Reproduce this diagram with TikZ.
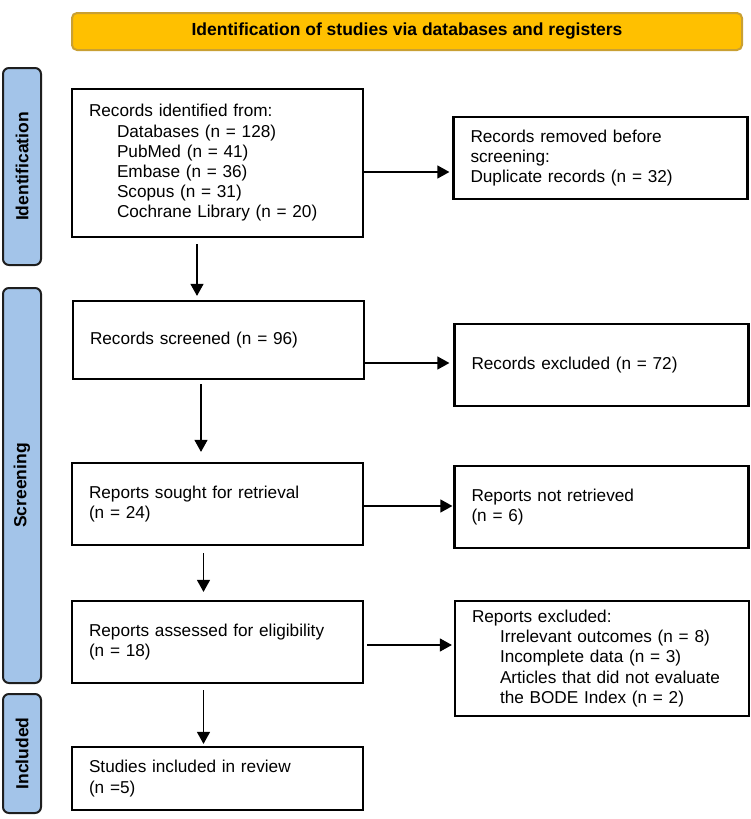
\documentclass[tikz,border=0pt]{standalone}
\usepackage{fontspec}
\setmainfont{Liberation Sans}
\usepackage{xcolor}
\usepackage{tikz}
\usetikzlibrary{positioning, arrows.meta}
\definecolor{hdrfill}{HTML}{FFC000}
\definecolor{hdrline}{HTML}{C9A033}
\definecolor{sidefill}{HTML}{A3C4E9}
\definecolor{sideline}{HTML}{1E1E1E}

\begin{document}
\begin{tikzpicture}[x=0.5pt, y=-0.5pt, font=\fontsize{8.6}{10.1}\selectfont,
  box/.style={draw=black, line width=1.1pt, fill=white, align=left, inner xsep=8.5pt, inner ysep=0pt},
  lbox/.style={box, text width=128.5pt, minimum width=145.5pt},
  rbox/.style={box, text width=130pt, minimum width=147pt},
  side/.style={draw=sideline, line width=1pt, fill=sidefill, rounded corners=3pt, rotate=90,
    minimum height=19pt, font=\fontsize{8.75}{10}\selectfont\bfseries},
  arr/.style={-{Triangle[length=6pt, width=6.5pt]}, line width=0.6pt}]
% coordinates in pixels of the 750 x 819 frame
\useasboundingbox (0,0) rectangle (750,819);
\node[draw=hdrline, line width=1pt, fill=hdrfill, rounded corners=2.5pt, minimum width=335pt, minimum height=18.5pt,
  font=\fontsize{8.75}{10}\selectfont\bfseries] (hdr) at (407,31.5) {Identification of studies via databases and registers};
\node[side, minimum width=98.5pt] (idn) at (22,166.5) {Identification};
\node[side, minimum width=197.5pt] (scn) at (22,485.5) {Screening};
\node[side, minimum width=59.5pt] (icl) at (22,753.5) {Included};

\node[lbox, minimum height=74pt] (rec) at (217.5,163) {Records identified from:\\
  \hspace*{14pt}Databases (n = 128)\\
  \hspace*{14pt}PubMed (n = 41)\\
  \hspace*{14pt}Embase (n = 36)\\
  \hspace*{14pt}Scopus (n = 31)\\
  \hspace*{14pt}Cochrane Library (n = 20)};
\node[rbox, minimum height=41pt] (rem) at (600.5,158) {Records removed before\\screening:\\Duplicate records (n = 32)};
\node[lbox, minimum height=39pt] (scr) at (218.5,340) {Records screened (n = 96)};
\node[rbox, minimum height=41pt] (exc) at (601.5,365) {Records excluded (n = 72)};
\node[lbox, minimum height=41pt] (sgt) at (217.5,504) {Reports sought for retrieval\\(n = 24)};
\node[rbox, minimum height=41pt] (nrt) at (601.5,507) {Reports not retrieved\\(n = 6)};
\node[lbox, minimum height=41pt] (ass) at (217.5,642) {Reports assessed for eligibility\\(n = 18)};
\node[rbox, minimum height=57.5pt] (rex) at (602,658.5) {Reports excluded:\\
  \hspace*{14pt}Irrelevant outcomes (n = 8)\\
  \hspace*{14pt}Incomplete data (n = 3)\\
  \hspace*{14pt}Articles that did not evaluate\\
  \hspace*{14pt}the BODE Index (n = 2)};
\node[lbox, minimum height=31.5pt] (inc) at (217.5,778.5) {Studies included in review\\(n =5)};

% flow down the left column
\draw[arr] ([xshift=-10.25pt, yshift=-3pt]rec.south) -- ([xshift=-10.75pt, yshift=2pt]scr.north);
\draw[arr] ([xshift=-8.75pt, yshift=-2pt]scr.south) -- ([xshift=-8.25pt, yshift=5pt]sgt.north);
\draw[arr] ([xshift=-7pt, yshift=-3.5pt]sgt.south) -- ([xshift=-7pt, yshift=4pt]ass.north);
\draw[arr] ([xshift=-7pt, yshift=-3pt]ass.south) -- ([xshift=-7pt, yshift=1pt]inc.north);
% exclusions to the right
\draw[arr, shorten >=1.5pt] ([yshift=-4.5pt]rec.east) -- ([yshift=-7pt]rem.west);
\draw[arr, shorten >=2pt] ([yshift=-11.5pt]scr.east) -- ([yshift=1pt]exc.west);
\draw[arr, shorten >=0.5pt] ([yshift=-1pt]sgt.east) -- ([yshift=0.5pt]nrt.west);
\draw[arr, shorten <=1.5pt, shorten >=1pt] ([yshift=-1.5pt]ass.east) -- ([yshift=6.75pt]rex.west);
\end{tikzpicture}
\end{document}
